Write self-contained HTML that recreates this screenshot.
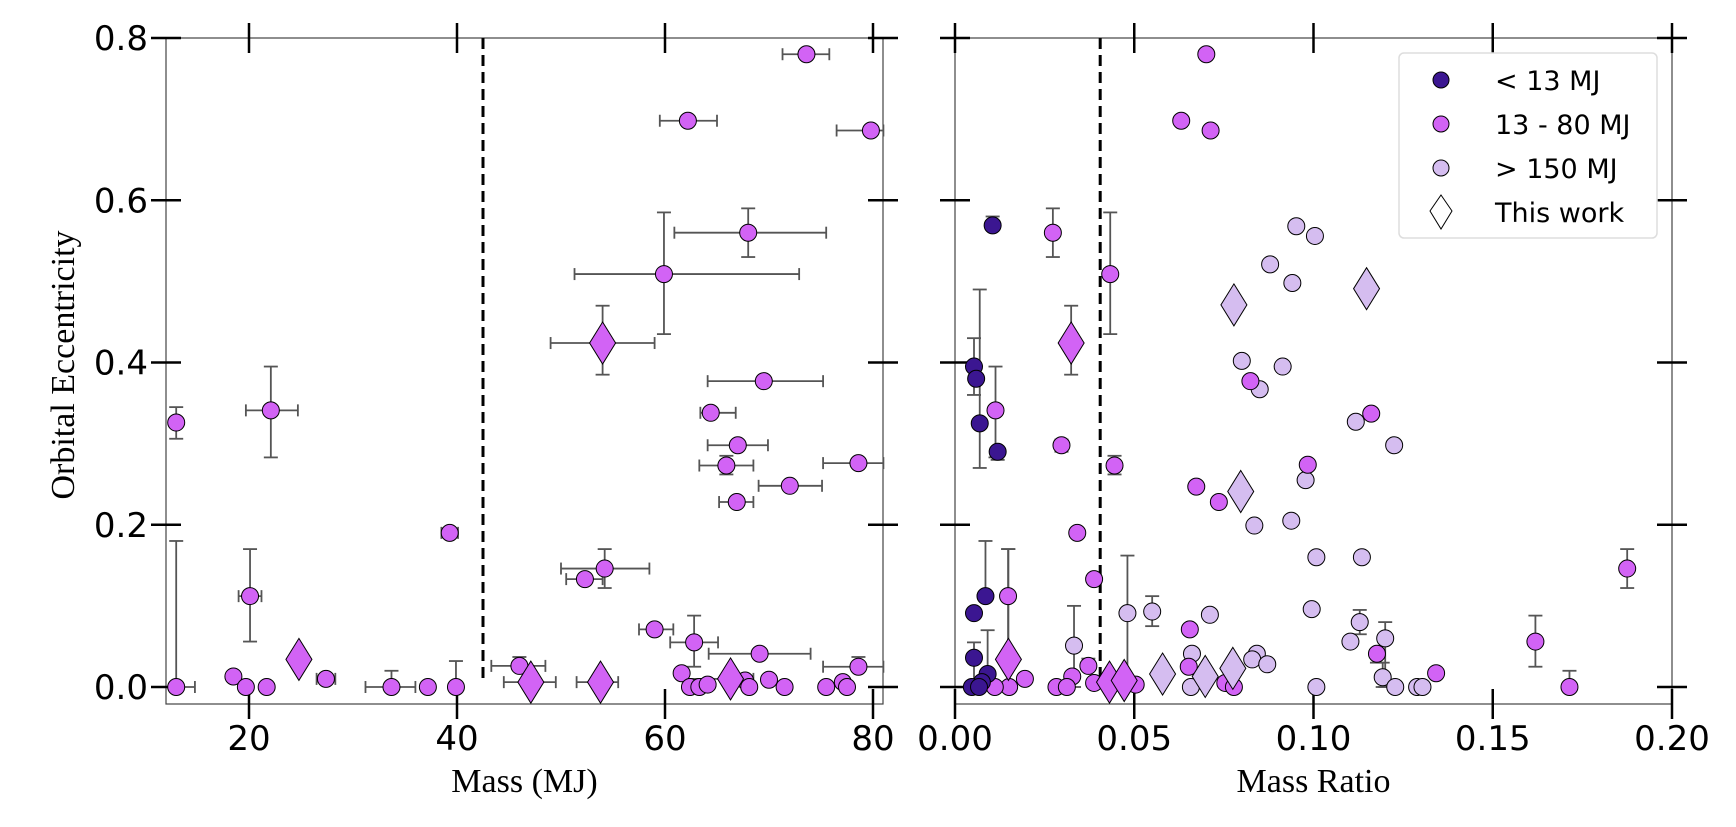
<!DOCTYPE html>
<html><head><meta charset="utf-8"><style>
html,body{margin:0;padding:0;background:#fff;}
svg text{font-family:"DejaVu Sans","Liberation Sans",sans-serif;}
.ser{font-family:"Liberation Serif",serif;}
</style></head><body>
<svg id="chart" width="1736" height="822" viewBox="0 0 1736 822" xmlns="http://www.w3.org/2000/svg">
<g id="L"></g>
<g id="R"></g>
<g id="legend">
<rect x="1399" y="53" width="258" height="185" rx="5" fill="#fff" fill-opacity="0.9" stroke="#ddd" stroke-width="1.5"/>
<g><circle cx="1441" cy="80" r="8" fill="#3b1691" stroke="#000" stroke-width="1"/><text x="1495" y="90" font-size="27">&lt; 13 MJ</text></g>
<g><circle cx="1441" cy="124" r="8" fill="#d263f5" stroke="#000" stroke-width="1"/><text x="1495" y="134" font-size="27">13 - 80 MJ</text></g>
<g><circle cx="1441" cy="168" r="8" fill="#d5bdf0" stroke="#000" stroke-width="1"/><text x="1495" y="178" font-size="27">&gt; 150 MJ</text></g>
<g><polygon points="1441,195 1452,211 1441,229 1430,211" fill="#fff" stroke="#000" stroke-width="1"/><text x="1495" y="222" font-size="27">This work</text></g>
</g>
</svg>
<script>
// ---- Left panel data: mass (MJ) vs eccentricity ----
const massX   = [13.0,13.0,22.1,20.1,18.5,19.7,21.7,27.4,33.7,37.2,39.9,39.3,46.0,52.3,54.2,59.9,68.0,73.6,62.2,79.8,69.5,64.4,67.0,65.9,72.0,66.9,78.6,59.0,62.8,69.1,61.6,62.4,63.3,64.1,67.7,68.1,70.0,71.5,75.5,77.1,77.5,78.6];
const massE   = [0,0.326,0.341,0.112,0.013,0,0,0.01,0,0,0,0.19,0.026,0.133,0.146,0.509,0.56,0.78,0.698,0.686,0.377,0.338,0.298,0.273,0.248,0.228,0.276,0.071,0.055,0.041,0.017,0,0,0.003,0.008,0,0.009,0,0,0.006,0,0.025];
const massXLo = [null,null,19.7,19.0,null,null,null,26.5,31.2,null,null,38.5,43.3,50.5,50.0,51.3,60.9,71.3,59.5,76.5,64.1,63.4,64.1,63.3,69.0,65.2,75.2,57.5,60.5,64.2,null,null,null,null,null,null,null,null,null,null,null,75.2];
const massXHi = [14.8,null,24.7,21.2,null,null,null,28.3,36.0,null,null,40.1,48.5,54.0,58.5,72.9,75.5,75.8,65.0,81.0,75.2,66.8,69.9,68.5,75.1,68.5,81.0,60.8,65.1,74.0,null,null,null,null,null,null,null,null,null,null,null,81.0];
const massELo = [null,0.306,0.283,0.056,null,null,null,null,null,null,null,null,null,null,0.122,0.435,0.53,null,null,null,null,null,null,0.262,null,null,null,null,0.025,null,null,null,null,null,null,null,null,null,null,null,null,null];
const massEHi = [0.18,0.345,0.395,0.17,null,null,null,null,0.02,null,0.032,null,0.037,null,0.17,0.585,0.59,null,null,null,null,null,null,0.285,null,null,null,null,0.088,null,null,null,null,null,null,null,null,null,null,null,null,0.037];
const workMassX = [24.8,54.0,47.1,53.8,66.3];
const workMassE = [0.034,0.424,0.006,0.006,0.01];
const workMassXLo = [null,49.0,44.5,51.5,62.0];
const workMassXHi = [null,59.0,49.5,55.5,68.5];
const workMassELo = [null,0.385,null,null,null];
const workMassEHi = [null,0.47,null,null,null];
// ---- Right panel data: mass ratio vs eccentricity ----
const darkQ = [0.0105,0.0053,0.0059,0.0069,0.0119,0.0085,0.0053,0.0053,0.0091,0.0075,0.0047,0.0067];
const darkE = [0.569,0.395,0.380,0.325,0.29,0.112,0.091,0.036,0.016,0.006,0,0];
const darkELo = [null,0.36,null,0.27,0.28,null,null,0.0,null,null,null,null];
const darkEHi = [0.58,0.43,null,0.49,null,0.18,null,0.055,0.07,null,null,null];
const midQ = [0.0701,0.0631,0.0713,0.0273,0.0433,0.0113,0.0297,0.0445,0.0824,0.1161,0.0984,0.0673,0.0736,0.0341,0.0388,0.0148,0.1875,0.0655,0.1619,0.1177,0.1342,0.1714,0.0195,0.0327,0.0372,0.0151,0.0111,0.0283,0.0312,0.0388,0.0652,0.0754,0.0778,0.0504];
const midE = [0.78,0.698,0.686,0.56,0.509,0.341,0.298,0.273,0.377,0.337,0.274,0.247,0.228,0.19,0.133,0.112,0.146,0.071,0.056,0.041,0.017,0,0.01,0.013,0.026,0,0,0,0,0.005,0.025,0.005,0,0.003];
const midELo = [null,null,null,0.53,0.435,0.283,0.29,0.262,null,null,null,null,null,null,null,0.0,0.122,null,0.025,0.03,null,null,null,null,null,null,null,null,null,null,null,null,null,null];
const midEHi = [null,null,null,0.59,0.585,0.395,0.305,0.285,null,null,null,null,null,null,null,0.17,0.17,null,0.088,null,null,0.02,null,null,0.035,null,null,null,null,null,null,null,null,null];
const lightQ = [0.0952,0.1004,0.0879,0.0941,0.080,0.0914,0.085,0.1118,0.1225,0.0978,0.0938,0.0835,0.1008,0.1135,0.0481,0.055,0.0711,0.0995,0.1129,0.1103,0.120,0.0332,0.0661,0.0842,0.0829,0.0871,0.1193,0.1228,0.1289,0.1304,0.1008,0.0658];
const lightE = [0.568,0.556,0.521,0.498,0.402,0.395,0.367,0.327,0.298,0.255,0.205,0.199,0.16,0.16,0.091,0.093,0.089,0.096,0.08,0.056,0.06,0.051,0.041,0.041,0.034,0.028,0.012,0,0,0,0,0];
const lightELo = [null,null,null,null,null,0.39,null,null,null,null,null,null,null,null,0.0,0.075,null,null,0.065,null,0.0,0.0,null,null,null,null,0.0,null,null,null,null,null];
const lightEHi = [null,null,null,null,null,0.4,null,null,null,null,null,null,null,null,0.162,0.112,null,null,0.095,null,0.08,0.1,null,null,null,null,0.03,null,null,null,null,null];
const workMidQ = [0.0324,0.0149,0.0431,0.0472];
const workMidE = [0.424,0.034,0.006,0.008];
const workMidELo = [0.385,null,null,null];
const workMidEHi = [0.47,0.17,null,null];
const workLightQ = [0.0778,0.1148,0.0797,0.0579,0.0698,0.0775];
const workLightE = [0.471,0.491,0.241,0.016,0.013,0.023];
const massTicks = [20,40,60,80];
const ratioTicks = [0.00,0.05,0.10,0.15,0.20];
const eTicks = [0.0,0.2,0.4,0.6,0.8];
const massDivider = 42.5;
const ratioDivider = 0.0405;

const NS="http://www.w3.org/2000/svg";
const DARK="#3b1691", MID="#d263f5", LIGHT="#d5bdf0";
const yTop=38, yZero=687, yBot=704;
const ey = e => yZero - e*(yZero-yTop)/0.8;
const mx = m => 249 + (m-20)*(873-249)/60;
const rx = q => 955 + q*(1672-955)/0.2;
function mk(parent, tag, attrs){const el=document.createElementNS(NS,tag);for(const k in attrs)el.setAttribute(k,attrs[k]);parent.appendChild(el);return el;}

function frame(g, x0, x1, xt, xf, lbls, title, showY){
  const sp=mk(g,'rect',{x:x0,y:yTop,width:x1-x0,height:yBot-yTop,fill:'none',stroke:'#444','stroke-width':1.2});
  
  
  xt.forEach((v,i)=>{
    const x=xf(v);
    mk(g,'line',{x1:x,x2:x,y1:yTop-15,y2:yTop+15,stroke:'#000','stroke-width':2.5});
    mk(g,'line',{x1:x,x2:x,y1:yBot-15,y2:yBot+15,stroke:'#000','stroke-width':2.5});
    const t=mk(g,'text',{x:x,y:750,'font-size':34,'text-anchor':'middle'});
    t.textContent=lbls[i];
    
    
  });
  eTicks.forEach(v=>{
    const y=ey(v);
    mk(g,'line',{x1:x0-15,x2:x0+15,y1:y,y2:y,stroke:'#000','stroke-width':2.5});
    mk(g,'line',{x1:x1-15,x2:x1+15,y1:y,y2:y,stroke:'#000','stroke-width':2.5});
    if(showY){
      const t=mk(g,'text',{x:148,y:y+12,'font-size':34,'text-anchor':'end'});
      t.textContent=v.toFixed(1);
      
      
    }
  });
  const tt=mk(g,'text',{x:(x0+x1)/2,y:792,'font-size':34,'text-anchor':'middle','class':'ser'});
  tt.textContent=title;
  
  
}
function errs(g, xs, es, xf, xlo, xhi, elo, ehi){
  xs.forEach((v,i)=>{
    const x=xf(v), y=ey(es[i]);
    if(xlo||xhi){
      const a=xlo&&xlo[i]!=null?xf(xlo[i]):x, b=xhi&&xhi[i]!=null?xf(xhi[i]):x;
      if(a!==b){mk(g,'line',{x1:a,x2:b,y1:y,y2:y,stroke:'#555','stroke-width':1.8});
        [a,b].forEach(c=>{if(c!==x)mk(g,'line',{x1:c,x2:c,y1:y-6,y2:y+6,stroke:'#555','stroke-width':1.8});});}
    }
    const lo=elo&&elo[i]!=null?ey(elo[i]):y, hi=ehi&&ehi[i]!=null?ey(ehi[i]):y;
    if(lo!==hi){mk(g,'line',{x1:x,x2:x,y1:lo,y2:hi,stroke:'#555','stroke-width':1.8});
      [lo,hi].forEach(c=>{if(c!==y)mk(g,'line',{x1:x-7,x2:x+7,y1:c,y2:c,stroke:'#555','stroke-width':1.8});});}
  });
}
function dots(g, xs, es, xf, col, name){
  xs.forEach((v,i)=>{
    const c=mk(g,'circle',{cx:xf(v),cy:ey(es[i]),r:8.5,fill:col,stroke:'#000','stroke-width':1});
    
    
  });
}
function dias(g, xs, es, xf, col){
  xs.forEach((v,i)=>{
    const x=xf(v), y=ey(es[i]);
    const p=mk(g,'polygon',{points:`${x},${y-21} ${x+13},${y} ${x},${y+21} ${x-13},${y}`,fill:col,stroke:'#000','stroke-width':1});
    
    
  });
}
function divider(g,x){
  const d=mk(g,'line',{x1:x,x2:x,y1:yTop,y2:yZero-3,stroke:'#000','stroke-width':3,'stroke-dasharray':'11,6'});
  
  
}

const L=document.getElementById('L'), R=document.getElementById('R');
frame(L,166,883,massTicks,mx,massTicks.map(String),'Mass (MJ)',true);
frame(R,955,1672,ratioTicks,rx,ratioTicks.map(v=>v.toFixed(2)),'Mass Ratio',false);
const yt=mk(L,'text',{x:0,y:0,'font-size':34,'text-anchor':'middle','class':'ser',transform:'translate(74,365) rotate(-90)'});
yt.textContent='Orbital Eccentricity';


divider(L,mx(massDivider));
divider(R,rx(ratioDivider));
errs(L,massX,massE,mx,massXLo,massXHi,massELo,massEHi);
errs(L,workMassX,workMassE,mx,workMassXLo,workMassXHi,workMassELo,workMassEHi);
dots(L,massX,massE,mx,MID,'bd-point');
dias(L,workMassX,workMassE,mx,MID);
errs(R,darkQ,darkE,rx,null,null,darkELo,darkEHi);
errs(R,midQ,midE,rx,null,null,midELo,midEHi);
errs(R,lightQ,lightE,rx,null,null,lightELo,lightEHi);
errs(R,workMidQ,workMidE,rx,null,null,workMidELo,workMidEHi);
dots(R,lightQ,lightE,rx,LIGHT,'stellar-point');
dots(R,midQ,midE,rx,MID,'bd-point');
dots(R,darkQ,darkE,rx,DARK,'planet-point');
dias(R,workLightQ,workLightE,rx,LIGHT);
dias(R,workMidQ,workMidE,rx,MID);
</script>
</body></html>
